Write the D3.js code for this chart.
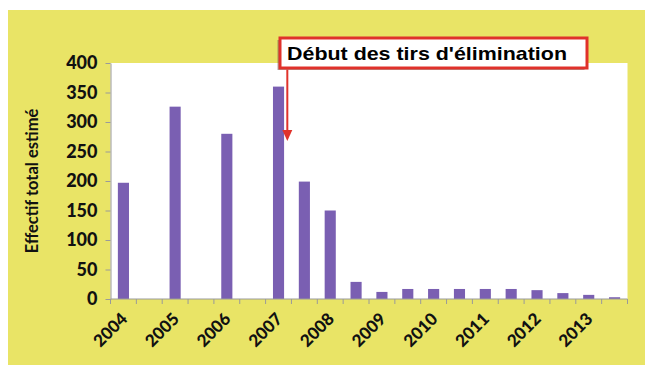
<!DOCTYPE html>
<html>
<head>
<meta charset="utf-8">
<script src="https://cdn.jsdelivr.net/npm/d3@7"></script>
<style>
  html, body { margin: 0; padding: 0; background: #ffffff; }
  svg { display: block; }
</style>
</head>
<body>
<svg id="chart" width="645" height="365"></svg>
<script>
// Half-year periods, 2004 to 2013
const periods = [
  "2004-1", "2004-2", "2005-1", "2005-2", "2006-1", "2006-2", "2007-1", "2007-2",
  "2008-1", "2008-2", "2009-1", "2009-2", "2010-1", "2010-2", "2011-1", "2011-2",
  "2012-1", "2012-2", "2013-1", "2013-2"
];
// Estimated total population for each period (null = no estimate)
const effectif = [197, null, 326, null, 280, null, 360, 199, 150, 29, 12, 17, 17, 17, 17, 17, 15, 10, 7, 3];
// Labels shown under the axis, one per year
const tickLabels = [
  "2004", "", "2005", "", "2006", "", "2007", "", "2008", "", "2009", "", "2010", "",
  "2011", "", "2012", "", "2013", ""
];
const yTicks = [0, 50, 100, 150, 200, 250, 300, 350, 400];
const yTitle = "Effectif total estimé";
const annotationText = "Début des tirs d'élimination";
const annotationPeriod = "2007-1";
const annotationValue = 268;

const svg = d3.select("#chart");
const W = 645, H = 365;
const plot = { left: 110.5, right: 627.5, top: 63, bottom: 299 };
const axisFont = "Lato, 'Liberation Sans', sans-serif";

// yellow panel
svg.append("rect").attr("x", 8).attr("y", 10).attr("width", W - 8).attr("height", H - 10)
  .attr("fill", "#e9e466");

// plot area
svg.append("rect").attr("x", plot.left).attr("y", plot.top)
  .attr("width", plot.right - plot.left).attr("height", plot.bottom - plot.top)
  .attr("fill", "#ffffff");

const x = d3.scaleBand().domain(periods).range([plot.left, plot.right])
  .paddingInner(0.57).paddingOuter(0.285);
const y = d3.scaleLinear().domain([0, 400]).range([plot.bottom, plot.top]);

const data = periods.map((p, i) => ({ p, v: effectif[i], label: tickLabels[i] }));

// bars
svg.append("g").selectAll("rect")
  .data(data.filter(d => d.v != null))
  .join("rect")
  .attr("x", d => x(d.p))
  .attr("width", x.bandwidth())
  .attr("y", d => y(d.v))
  .attr("height", d => y(0) - y(d.v))
  .attr("fill", "#7a5fb2");

// y axis
const yAxis = svg.append("g").attr("transform", `translate(${plot.left},0)`)
  .call(d3.axisLeft(y).tickValues(yTicks).tickSize(5).tickPadding(8).tickSizeOuter(0));
yAxis.select(".domain").attr("stroke", "#9a9a9a");
yAxis.selectAll(".tick line").attr("stroke", "#9a9a9a");
yAxis.selectAll(".tick text")
  .attr("fill", "#111")
  .style("font-family", axisFont)
  .style("font-weight", "900")
  .style("font-size", "18px");

// x axis: ticks at period boundaries
const xg = svg.append("g").attr("transform", `translate(0,${plot.bottom})`);
xg.append("line").attr("x1", plot.left).attr("x2", plot.right)
  .attr("stroke", "#9a9a9a");
const step = x.step();
const boundaries = d3.range(periods.length + 1).map(i => plot.left + i * step);
xg.selectAll("line.tk").data(boundaries).join("line").attr("class", "tk")
  .attr("x1", d => d).attr("x2", d => d).attr("y1", 0).attr("y2", 5)
  .attr("stroke", "#9a9a9a");
xg.selectAll("text").data(data.filter(d => d.label)).join("text")
  .attr("transform", d => `translate(${x(d.p) + x.bandwidth() / 2 + 5},${21}) rotate(-45)`)
  .attr("text-anchor", "end")
  .attr("fill", "#111")
  .style("font-family", axisFont)
  .style("font-weight", "900")
  .style("font-size", "17px")
  .text(d => d.label);

// y title
svg.append("text")
  .attr("transform", `translate(38,${(plot.top + plot.bottom) / 2}) rotate(-90)`)
  .attr("text-anchor", "middle")
  .attr("fill", "#111")
  .style("font-family", axisFont)
  .style("font-weight", "700")
  .style("font-size", "16.5px")
  .text(yTitle);

// annotation: box and arrow
const ax = x(annotationPeriod) + x.bandwidth() / 2 + step * 0.34;
const box = { x: 280, y: 38, w: 307, h: 30 };
const ann = svg.append("g");
ann.append("rect").attr("x", box.x - 2.5).attr("y", box.y + 2).attr("width", box.w).attr("height", box.h)
  .attr("fill", "#5a5a4a").attr("opacity", 0.5);
ann.append("rect").attr("x", box.x).attr("y", box.y).attr("width", box.w).attr("height", box.h)
  .attr("fill", "#ffffff").attr("stroke", "#e0322b").attr("stroke-width", 3);
ann.append("text").attr("x", box.x + 7).attr("y", box.y + 22)
  .attr("fill", "#000")
  .attr("textLength", 280)
  .attr("lengthAdjust", "spacingAndGlyphs")
  .style("font-family", "'Liberation Sans', Arial, sans-serif")
  .style("font-weight", "700")
  .style("font-size", "19px")
  .text(annotationText);
const tipY = y(annotationValue);
ann.append("line").attr("x1", ax).attr("x2", ax).attr("y1", box.y + box.h + 1.5).attr("y2", tipY - 8)
  .attr("stroke", "#e0322b").attr("stroke-width", 2);
ann.append("path")
  .attr("d", `M${ax - 5},${tipY - 11} L${ax + 5},${tipY - 11} L${ax},${tipY} Z`)
  .attr("fill", "#e0322b");
</script>
</body>
</html>
